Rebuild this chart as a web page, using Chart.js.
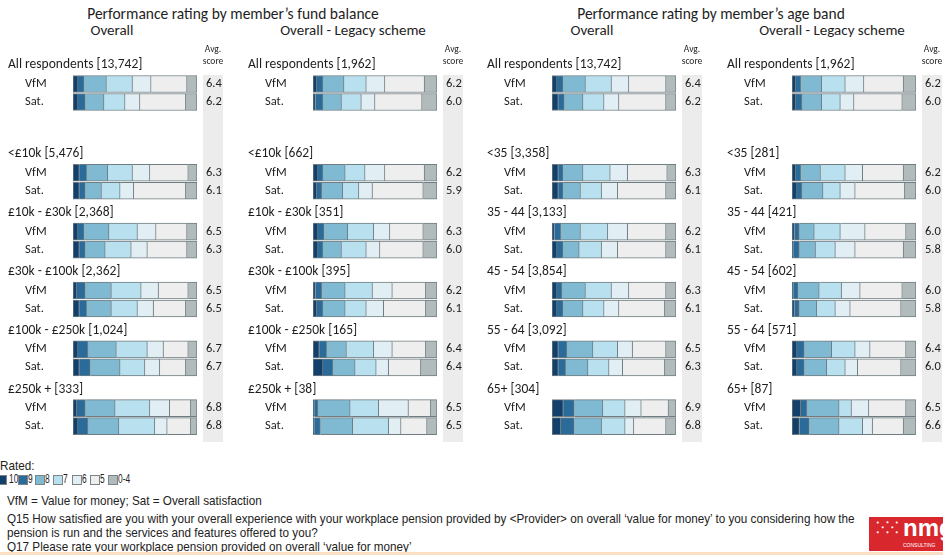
<!DOCTYPE html>
<html><head><meta charset="utf-8">
<script src="https://cdn.jsdelivr.net/npm/chart.js@4.4.1/dist/chart.umd.min.js"></script>
<style>
body{margin:0;width:943px;height:555px;overflow:hidden;background:#fff;font-family:Carlito,Lato,"Liberation Sans",sans-serif;color:#1e1e1e;position:relative}
.t{position:absolute;white-space:nowrap}
.c{text-align:center;width:400px}
canvas{position:absolute;top:0}
.fn{font-family:"Liberation Sans",sans-serif;font-size:13px;color:#222;transform:scaleX(0.9);transform-origin:0 0}
.sq{position:absolute;width:8px;height:8px;border:1px solid #7a8589;top:475px}
.lg{position:absolute;top:472px;font-family:"Liberation Sans",sans-serif;font-size:12px;transform:scaleX(0.7);transform-origin:0 0}
</style></head><body>
<div class="t c" style="left:33px;top:4px;font-size:15.5px">Performance rating by member’s fund balance</div>
<div class="t c" style="left:-88px;top:21px;font-size:15px">Overall</div>
<div class="t c" style="left:153px;top:21px;font-size:15px">Overall - Legacy scheme</div>
<div class="t c" style="left:511px;top:4px;font-size:15.5px">Performance rating by member’s age band</div>
<div class="t c" style="left:392px;top:21px;font-size:15px">Overall</div>
<div class="t c" style="left:632px;top:21px;font-size:15px">Overall - Legacy scheme</div>

<canvas id="p1" width="240" height="450" style="left:0px"></canvas>
<canvas id="p2" width="240" height="450" style="left:240px"></canvas>
<canvas id="p3" width="240" height="450" style="left:479px"></canvas>
<canvas id="p4" width="240" height="450" style="left:719px"></canvas>

<div class="t fn" style="left:0;top:458px">Rated:</div>
<div id="legend"></div>
<div class="t fn" style="left:7px;top:493px">VfM = Value for money; Sat = Overall satisfaction</div>
<div class="t fn" style="left:7px;top:511px">Q15 How satisfied are you with your overall experience with your workplace pension provided by &lt;Provider&gt; on overall ‘value for money’ to you considering how the</div>
<div class="t fn" style="left:7px;top:525px">pension is run and the services and features offered to you?</div>
<div class="t fn" style="left:7px;top:539px">Q17 Please rate your workplace pension provided on overall ‘value for money’</div>
<div style="position:absolute;left:869px;top:517px;width:74px;height:34px;background:#d8282e;overflow:hidden">
  <div class="t" style="left:7px;top:6px;color:#fff;font-size:16px;line-height:10px;letter-spacing:1px">⁚⁘⁚</div>
  <div class="t" style="left:34px;top:-3px;color:#fff;font-size:24px;font-weight:bold;font-family:'Liberation Sans',sans-serif">nmg</div>
  <div class="t" style="left:34px;top:25px;color:#fff;font-size:5px;font-family:'Liberation Sans',sans-serif">CONSULTING</div>
</div>
<div style="position:absolute;left:0;top:552px;width:943px;height:3px;background:#fbe0c6"></div>

<script>
// ---------- DATA ----------
const ratings = ['10','9','8','7','6','5','0-4'];

// Panel 1: fund balance, Overall
const fundGroups = ['All respondents [13,742]','<£10k [5,476]','£10k - £30k [2,368]','£30k - £100k [2,362]','£100k - £250k [1,024]','£250k + [333]'];
const fundVfM = [[4,5,18,21,15,29,8],[5,6,17,20,14,31,7],[4,5,20,23,15,25,8],[3,7,21,24,14,24,7],[4,8,23,25,13,20,7],[3,7,24,28,16,17,5]];
const fundSat = [[4,6,15,17,12,37,9],[5,5,13,15,11,42,9],[5,5,16,21,13,32,8],[5,6,20,21,13,26,9],[5,9,24,20,12,21,9],[4,8,25,29,10,19,5]];
const fundVfMAvg = [6.4,6.3,6.5,6.5,6.7,6.8];
const fundSatAvg = [6.2,6.1,6.3,6.5,6.7,6.8];

// Panel 2: fund balance, Overall - Legacy scheme
const legacyFundGroups = ['All respondents [1,962]','<£10k [662]','£10k - £30k [351]','£30k - £100k [395]','£100k - £250k [165]','£250k + [38]'];
const legacyFundVfM = [[3,5,17,18,15,32,10],[4,4,18,16,16,32,10],[4,5,19,21,13,27,11],[2,5,19,22,16,27,9],[5,6,16,22,15,27,9],[1,3,26,23,24,18,5]];
const legacyFundSat = [[2,6,15,16,11,38,12],[3,4,17,13,11,41,11],[4,4,15,20,11,35,11],[3,5,18,17,14,34,9],[8,8,18,17,10,26,13],[1,5,26,29,10,21,8]];
const legacyFundVfMAvg = [6.2,6.2,6.3,6.2,6.4,6.5];
const legacyFundSatAvg = [6.0,5.9,6.0,6.1,6.4,6.5];

// Panel 3: age band, Overall
const ageGroups = ['All respondents [13,742]','<35 [3,358]','35 - 44 [3,133]','45 - 54 [3,854]','55 - 64 [3,092]','65+ [304]'];
const ageVfM = [[4,5,18,21,14,30,8],[5,4,16,22,14,32,7],[2,5,16,22,16,31,8],[4,4,19,21,14,30,8],[5,7,21,20,12,27,8],[9,9,23,18,13,22,6]];
const ageSat = [[5,5,15,17,12,38,8],[5,4,14,17,13,39,8],[4,5,13,18,13,39,8],[4,5,16,17,12,37,9],[5,6,18,17,11,34,9],[7,11,22,19,7,26,8]];
const ageVfMAvg = [6.4,6.3,6.2,6.3,6.5,6.9];
const ageSatAvg = [6.2,6.1,6.1,6.1,6.3,6.8];

// Panel 4: age band, Overall - Legacy scheme
const legacyAgeGroups = ['All respondents [1,962]','<35 [281]','35 - 44 [421]','45 - 54 [602]','55 - 64 [571]','65+ [87]'];
const legacyAgeVfM = [[3,4,17,19,15,32,10],[3,4,16,20,14,33,10],[2,4,12,21,20,33,8],[1,4,17,18,15,34,11],[4,6,22,19,12,29,8],[7,5,26,10,14,30,8]];
const legacyAgeSat = [[3,5,16,15,11,39,11],[4,4,17,14,12,40,9],[1,5,13,16,16,39,10],[2,4,14,15,12,41,12],[4,6,18,15,10,35,12],[6,8,24,19,8,25,10]];
const legacyAgeVfMAvg = [6.2,6.2,6.0,6.0,6.4,6.5];
const legacyAgeSatAvg = [6.0,6.0,5.8,5.8,6.0,6.6];

// ---------- STYLE ----------
const ratingColors = ['#12406b','#2b6b9a','#80b9d2','#b8e0ee','#e1eef3','#eeeeee','#b2bbbb'];
const edge = '#6f7c81';

// legend
(function(){
  const lg = document.getElementById('legend');
  const xs = [[-3,9],[18,28],[35,45],[53,63],[72,82],[90,100],[108,118]];
  ratings.forEach((r,i)=>{
    const s=document.createElement('div'); s.className='sq';
    s.style.left=xs[i][0]+'px'; s.style.background=ratingColors[i]; lg.appendChild(s);
    const t=document.createElement('div'); t.className='lg';
    t.style.left=xs[i][1]+'px'; t.textContent=r; lg.appendChild(t);
  });
})();

// layout: row position of VfM bar of group g (in bar-pitch units)
function rowPos(g){ return g===0 ? 0 : 4.93 + (g-1)*3.27; }

const panelText = {
  id:'panelText',
  beforeDatasetsDraw(chart){
    const ctx=chart.ctx;
    ctx.save();
    ctx.fillStyle='#ececec';
    ctx.fillRect(203, 75, 20, 367);
    ctx.restore();
  },
  afterDatasetsDraw(chart, args, o){
    const ctx=chart.ctx, y=chart.scales.y;
    ctx.save();
    ctx.fillStyle='#1e1e1e';
    ctx.textBaseline='middle';
    ctx.font='9.5px Carlito, Lato, sans-serif';
    ctx.textAlign='center';
    ctx.fillText('Avg.', 213, 50);
    ctx.fillText('score', 213, 62);
    ctx.textAlign='left';
    o.groups.forEach((g,i)=>{
      const yv=y.getPixelForValue(rowPos(i)), ys=y.getPixelForValue(rowPos(i)+1);
      ctx.font='13.5px Carlito, Lato, sans-serif';
      ctx.fillText(g, 8, yv-19);
      ctx.font='12.5px Carlito, Lato, sans-serif';
      ctx.fillText('VfM', 25, yv);
      ctx.fillText('Sat.', 25, ys);
      ctx.fillText(o.vfmAvg[i].toFixed(1), 206, yv);
      ctx.fillText(o.satAvg[i].toFixed(1), 206, ys);
    });
    ctx.restore();
  }
};

function makePanel(id, groups, vfm, sat, vfmAvg, satAvg){
  const datasets = ratings.map((r,k)=>{
    const data=[];
    groups.forEach((g,i)=>{
      data.push({y: rowPos(i), x: vfm[i][k]});
      data.push({y: rowPos(i)+1, x: sat[i][k]});
    });
    return {
      label: r, data,
      backgroundColor: ratingColors[k],
      borderColor: edge,
      borderWidth: {top:1,bottom:1,right:1,left:k===0?1:0},
      borderSkipped: false,
      barThickness: 17,
      grouped: false
    };
  });
  new Chart(document.getElementById(id), {
    type:'bar',
    data:{datasets},
    options:{
      indexAxis:'y',
      responsive:false,
      animation:false,
      layout:{padding:{left:73,right:43,top:66,bottom:6}},
      scales:{
        x:{type:'linear',stacked:true,min:0,max:100,display:false,offset:false},
        y:{type:'linear',stacked:true,min:-1,max:20,reverse:true,display:false,offset:false}
      },
      plugins:{
        legend:{display:false},
        tooltip:{enabled:false},
        panelText:{groups, vfmAvg, satAvg}
      }
    },
    plugins:[panelText]
  });
}

makePanel('p1', fundGroups, fundVfM, fundSat, fundVfMAvg, fundSatAvg);
makePanel('p2', legacyFundGroups, legacyFundVfM, legacyFundSat, legacyFundVfMAvg, legacyFundSatAvg);
makePanel('p3', ageGroups, ageVfM, ageSat, ageVfMAvg, ageSatAvg);
makePanel('p4', legacyAgeGroups, legacyAgeVfM, legacyAgeSat, legacyAgeVfMAvg, legacyAgeSatAvg);
</script>
</body></html>
